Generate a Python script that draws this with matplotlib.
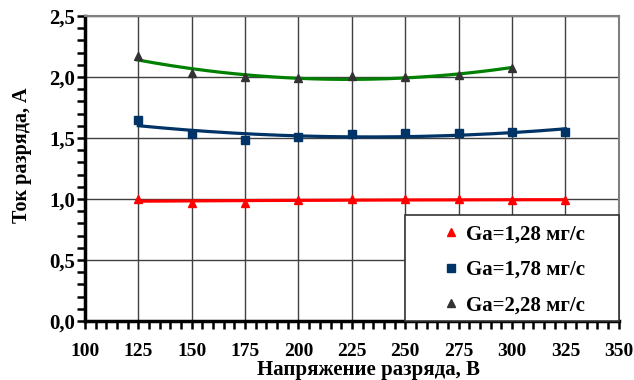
import matplotlib
matplotlib.use("Agg")
import matplotlib.pyplot as plt
import numpy as np
from matplotlib.patches import Rectangle
from matplotlib.ticker import MultipleLocator, FuncFormatter

plt.rcParams["font.family"] = ["Liberation Serif", "DejaVu Serif"]
plt.rcParams["font.weight"] = "bold"

# data
voltage = [125, 150, 175, 200, 225, 250, 275, 300, 325]
current_128 = [1.00, 0.97, 0.97, 0.99, 1.00, 1.00, 1.00, 0.99, 0.99]
current_178 = [1.65, 1.53, 1.48, 1.51, 1.53, 1.54, 1.54, 1.55, 1.55]
voltage_228 = [125, 150, 175, 200, 225, 250, 275, 300]
current_228 = [2.17, 2.03, 2.00, 1.99, 2.01, 2.00, 2.02, 2.07]
labels = ["Ga=1,28 мг/с", "Ga=1,78 мг/с", "Ga=2,28 мг/с"]

fig = plt.figure(figsize=(6.34, 3.8), dpi=100)
ax = fig.add_axes([0.134, 0.155, 0.842, 0.803])

series = [
    (voltage, current_128, "^", "#ff0000", "#ff0000"),
    (voltage, current_178, "s", "#003366", "#003366"),
    (voltage_228, current_228, "^", "#333333", "#008000"),
]

for (xs, ys, mk, mcol, lcol), lab in zip(series, labels):
    xs = np.array(xs, dtype=float)
    ys = np.array(ys, dtype=float)
    # 2nd order polynomial trend line
    coef = np.polyfit(xs, ys, 2)
    xf = np.linspace(xs.min(), xs.max(), 200)
    ax.plot(xf, np.polyval(coef, xf), color=lcol, lw=2.3, zorder=3)
    ax.plot(xs, ys, ls="none", marker=mk, color=mcol, ms=6, label=lab, zorder=4)

ax.set_xlim(100, 350)
ax.set_ylim(0, 2.5)
ax.xaxis.set_major_locator(MultipleLocator(25))
ax.xaxis.set_minor_locator(MultipleLocator(5))
ax.yaxis.set_major_locator(MultipleLocator(0.5))
ax.yaxis.set_minor_locator(MultipleLocator(0.1))
ax.yaxis.set_major_formatter(FuncFormatter(lambda v, p: f"{v:.1f}".replace(".", ",")))

ax.grid(True, which="major", color="#404040", lw=1.0)
ax.tick_params(which="both", direction="out", width=1.8, length=6)
ax.tick_params(axis="x", pad=10, labelsize=14)
ax.tick_params(axis="y", pad=1, labelsize=15)
for side in ["left", "bottom"]:
    ax.spines[side].set_linewidth(2.5)
    ax.spines[side].set_color("black")
for side in ["top", "right"]:
    ax.spines[side].set_linewidth(1.5)
    ax.spines[side].set_color("#808080")

ax.set_xlabel("Напряжение разряда, В", fontsize=15, fontweight="bold")
ax.xaxis.set_label_coords(0.532, -0.128)
ax.set_ylabel("Ток разряда, А", fontsize=14.5, fontweight="bold")
ax.yaxis.set_label_coords(-0.099, 0.544)

# legend box sits in the lower right corner of the plot area
ax.add_patch(Rectangle((250, 0), 100, 0.87, facecolor="white", edgecolor="#333333",
                       lw=1.2, zorder=5, clip_on=False))
leg = ax.legend(loc="center left", bbox_to_anchor=(267.5, 0.42),
                bbox_transform=ax.transData, frameon=False, fontsize=15,
                borderpad=0, borderaxespad=0, handlelength=0.8,
                handletextpad=0.3, labelspacing=0.75)
leg.set_zorder(6)

fig.savefig("out.png", dpi=100)
